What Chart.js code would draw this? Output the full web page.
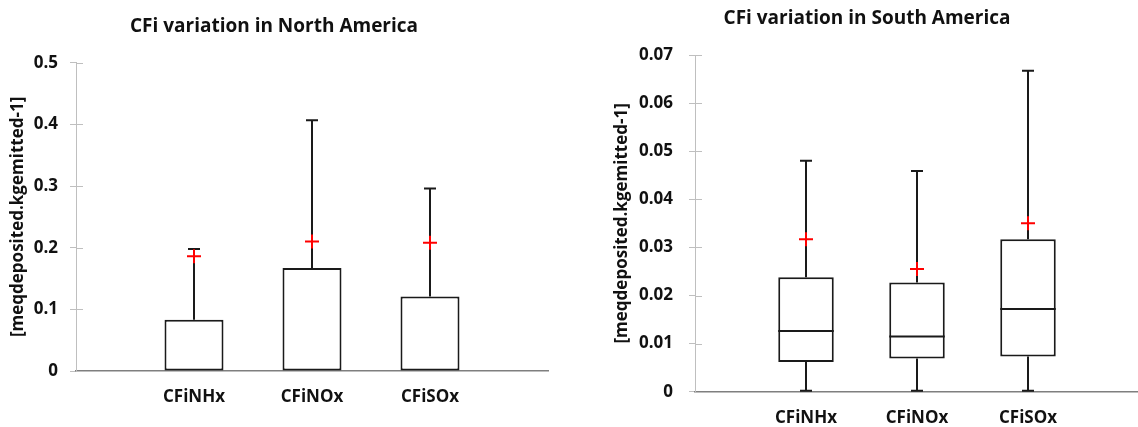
<!DOCTYPE html>
<html>
<head>
<meta charset="utf-8">
<script src="https://cdn.jsdelivr.net/npm/chart.js@4.4.0/dist/chart.umd.min.js"></script>
<style>
  body { margin: 0; background: #fff; overflow: hidden; width: 1138px; height: 427px; position: relative; }
  canvas { position: absolute; top: 0; }
</style>
</head>
<body>
<canvas id="na" width="560" height="427" style="left:0px"></canvas>
<canvas id="sa" width="562" height="427" style="left:586px"></canvas>
<script>
// categories (same for both panels)
const categories = ['CFiNHx', 'CFiNOx', 'CFiSOx'];
const yTitle = '[meqdeposited.kgemitted-1]';

// North America box stats
const naMin    = [0, 0, 0];
const naQ1     = [0, 0, 0];
const naMedian = [0, 0, 0];
const naQ3     = [0.083, 0.167, 0.121];
const naMax    = [0.198, 0.407, 0.296];
const naMean   = [0.186, 0.210, 0.208];

// South America box stats
const saMin    = [0, 0, 0];
const saQ1     = [0.0062, 0.0069, 0.0073];
const saMedian = [0.0126, 0.0115, 0.0172];
const saQ3     = [0.0238, 0.0227, 0.0317];
const saMax    = [0.048, 0.0459, 0.0667];
const saMean   = [0.0317, 0.0255, 0.035];

const FONT = 'Open Sans';
const TXT = '#111111';

// whiskers + median, drawn right after the box dataset
const boxExtras = {
    id: 'boxExtras',
    afterDatasetDraw(chart, args, opts) {
        if (args.index !== 1) return;
        const ctx = chart.ctx;
        const xs = chart.scales.x, ys = chart.scales.y;
        const bars = chart.getDatasetMeta(1).data;
        ctx.save();
        ctx.strokeStyle = '#1a1a1a';
        ctx.lineWidth = 2;
        for (let i = 0; i < categories.length; i++) {
            const x = xs.getPixelForValue(i + 1);
            const half = bars[i].width / 2;
            const yMax = ys.getPixelForValue(opts.max[i]);
            const yQ3 = ys.getPixelForValue(opts.q3[i]);
            const yQ1 = ys.getPixelForValue(opts.q1[i]);
            const yMin = ys.getPixelForValue(opts.min[i]) - 1;
            const yMed = ys.getPixelForValue(opts.median[i]);
            ctx.beginPath();
            ctx.moveTo(x, yQ3); ctx.lineTo(x, yMax);
            ctx.moveTo(x - 6, yMax); ctx.lineTo(x + 6, yMax);
            if (opts.q1[i] > opts.min[i]) {
                ctx.moveTo(x, yQ1); ctx.lineTo(x, yMin);
                ctx.moveTo(x - 6, yMin); ctx.lineTo(x + 6, yMin);
            }
            if (opts.median[i] > opts.q1[i]) {
                ctx.moveTo(x - half, yMed); ctx.lineTo(x + half, yMed);
            }
            ctx.stroke();
        }
        ctx.restore();
    },
    afterDraw(chart) {
        // small tick marks reaching into the plot, like the original
        const ys = chart.scales.y;
        const ctx = chart.ctx;
        ctx.save();
        ctx.strokeStyle = '#bfbfbf';
        ctx.lineWidth = 1;
        ys.ticks.forEach(t => {
            const y = Math.round(ys.getPixelForValue(t.value)) + 0.5;
            ctx.beginPath();
            ctx.moveTo(ys.right, y);
            ctx.lineTo(ys.right + 7, y);
            ctx.stroke();
        });
        ctx.restore();
    }
};

function makeChart(id, title, stats, cfg) {
    const boxData = categories.map((c, i) => ({ x: i + 1, y: [stats.q1[i], stats.q3[i]] }));
    const meanData = categories.map((c, i) => ({ x: i + 1, y: stats.mean[i] }));
    return new Chart(document.getElementById(id), {
        type: 'bar',
        data: {
            datasets: [
                {
                    type: 'scatter',
                    data: meanData,
                    pointStyle: 'cross',
                    pointRadius: 7,
                    borderColor: '#ff0000',
                    backgroundColor: '#ff0000',
                    borderWidth: 2
                },
                {
                    data: boxData,
                    backgroundColor: '#ffffff',
                    borderColor: '#1a1a1a',
                    borderWidth: 2,
                    borderSkipped: false,
                    categoryPercentage: 1,
                    barPercentage: 0.5
                }
            ]
        },
        options: {
            responsive: false,
            animation: false,
            events: [],
            layout: { padding: { left: 0, right: cfg.padRight, top: 0, bottom: 0 } },
            plugins: {
                legend: { display: false },
                tooltip: { enabled: false },
                title: {
                    display: true,
                    text: title,
                    color: TXT,
                    font: { family: FONT, size: 19, weight: 'bold' },
                    padding: cfg.titlePad
                },
                boxExtras: stats
            },
            scales: {
                x: {
                    type: 'linear',
                    offset: false,
                    min: 0,
                    max: 4,
                    afterBuildTicks: s => { s.ticks = categories.map((c, i) => ({ value: i + 1 })); },
                    ticks: {
                        callback: v => categories[v - 1],
                        color: TXT,
                        font: { family: FONT, size: 17, weight: 'bold' },
                        padding: cfg.xPad,
                        autoSkip: false,
                        maxRotation: 0
                    },
                    grid: { display: false },
                    border: { color: '#7f7f7f', width: 1.5 },
                    afterFit: s => { s.height = cfg.xHeight; }
                },
                y: {
                    min: 0,
                    max: cfg.yMax,
                    ticks: {
                        stepSize: cfg.yStep,
                        callback: v => String(+v.toFixed(2)),
                        color: TXT,
                        font: { family: FONT, size: 17, weight: 'bold' },
                        padding: cfg.yPad
                    },
                    grid: { drawOnChartArea: false, tickLength: 6, color: '#bfbfbf' },
                    border: { color: '#bfbfbf', width: 1 },
                    title: {
                        display: true,
                        text: yTitle,
                        color: TXT,
                        font: { family: FONT, size: 17, weight: 'bold' },
                        padding: { top: cfg.yTitleOff, bottom: 0 }
                    },
                    afterFit: s => { s.width = cfg.yWidth; }
                }
            }
        },
        plugins: [boxExtras]
    });
}

makeChart('na', 'CFi variation in North America',
    { min: naMin, q1: naQ1, median: naMedian, q3: naQ3, max: naMax, mean: naMean },
    { padRight: 12, titlePad: { top: 15, bottom: 25 }, xPad: 8, xHeight: 56,
      yMax: 0.5, yStep: 0.1, yPad: 12, yTitleOff: 8, yWidth: 76 });

makeChart('sa', 'CFi variation in South America',
    { min: saMin, q1: saQ1, median: saMedian, q3: saQ3, max: saMax, mean: saMean },
    { padRight: 0, titlePad: { top: 7, bottom: 25.2 }, xPad: 8, xHeight: 35.3,
      yMax: 0.07, yStep: 0.01, yPad: 16, yTitleOff: 26, yWidth: 109 });
</script>
</body>
</html>
